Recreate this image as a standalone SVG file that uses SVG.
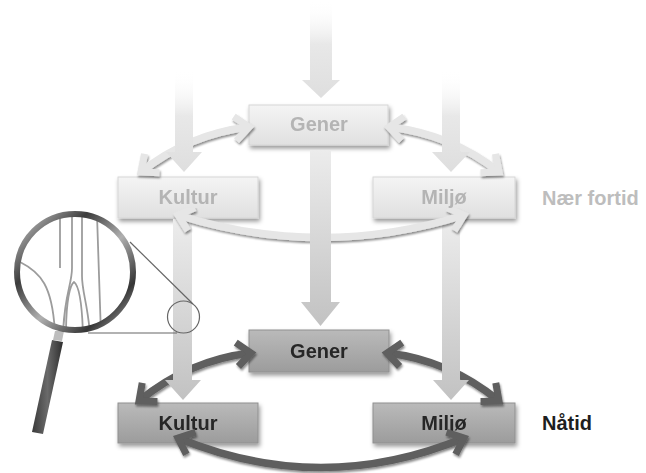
<svg xmlns="http://www.w3.org/2000/svg" width="646" height="473" viewBox="0 0 646 473">
  <defs>
    <style>
      .lbl { font-family: "Liberation Sans", Arial, sans-serif; font-weight: bold; font-size: 20px; text-anchor: middle; }
      .past-txt { fill: #b4b4b4; }
      .now-txt { fill: #262626; }
      .side { font-family: "Liberation Sans", Arial, sans-serif; font-weight: bold; font-size: 20px; }
      .past-box { fill: url(#gPastBox); stroke: #d6d6d6; stroke-width: 1; }
      .now-box { fill: url(#gNowBox); stroke: #909090; stroke-width: 1; }
      .band-light { fill: none; stroke: #e6e6e6; stroke-width: 7.5; marker-start: url(#mLight); marker-end: url(#mLight); }
      .band-dark { fill: none; stroke: #5e5e5e; stroke-width: 7.5; marker-start: url(#mDark); marker-end: url(#mDark); }
      .lens-line { fill: none; stroke: #9c9c9c; stroke-width: 1.8; }
      .thin { fill: none; stroke: #666666; stroke-width: 1.2; }
    </style>
    <filter id="shadow" x="-20%" y="-30%" width="140%" height="170%">
      <feDropShadow dx="1.5" dy="3" stdDeviation="2" flood-color="#000" flood-opacity="0.4"/>
    </filter>
    <filter id="shadowS" x="-20%" y="-30%" width="140%" height="170%">
      <feDropShadow dx="1" dy="2" stdDeviation="1.3" flood-color="#000" flood-opacity="0.45"/>
    </filter>
    <linearGradient id="gPastBox" x1="0" y1="0" x2="0" y2="1">
      <stop offset="0" stop-color="#f4f4f4"/>
      <stop offset="1" stop-color="#e0e0e0"/>
    </linearGradient>
    <linearGradient id="gNowBox" x1="0" y1="0" x2="0" y2="1">
      <stop offset="0" stop-color="#bababa"/>
      <stop offset="1" stop-color="#9c9c9c"/>
    </linearGradient>
    <linearGradient id="gIn" x1="0" y1="0" x2="0" y2="1">
      <stop offset="0" stop-color="#ffffff" stop-opacity="0"/>
      <stop offset="0.45" stop-color="#e8e8e8"/>
      <stop offset="1" stop-color="#dedede"/>
    </linearGradient>
    <linearGradient id="gDown" x1="0" y1="0" x2="0" y2="1">
      <stop offset="0" stop-color="#ececec"/>
      <stop offset="1" stop-color="#c2c2c2"/>
    </linearGradient>
    <linearGradient id="gRing" x1="0" y1="0" x2="1" y2="1">
      <stop offset="0" stop-color="#d0d0d0"/>
      <stop offset="0.3" stop-color="#3c3c3c"/>
      <stop offset="0.55" stop-color="#b0b0b0"/>
      <stop offset="0.8" stop-color="#363636"/>
      <stop offset="1" stop-color="#b4b4b4"/>
    </linearGradient>
    <linearGradient id="gHandle" x1="0" y1="0" x2="1" y2="0">
      <stop offset="0" stop-color="#3a3a3a"/>
      <stop offset="0.5" stop-color="#6a6a6a"/>
      <stop offset="1" stop-color="#2e2e2e"/>
    </linearGradient>
    <marker id="mLight" markerUnits="userSpaceOnUse" orient="auto-start-reverse" markerWidth="40" markerHeight="40" refX="0" refY="0" viewBox="-20 -20 40 40" overflow="visible">
      <path d="M-14,-12 L0,0 L-14,12" fill="none" stroke="#e6e6e6" stroke-width="7"/>
    </marker>
    <marker id="mDark" markerUnits="userSpaceOnUse" orient="auto-start-reverse" markerWidth="40" markerHeight="40" refX="0" refY="0" viewBox="-20 -20 40 40" overflow="visible">
      <path d="M-14,-12 L0,0 L-14,12" fill="none" stroke="#5e5e5e" stroke-width="7"/>
    </marker>
    <clipPath id="lensClip">
      <circle cx="75" cy="272" r="57"/>
    </clipPath>
  </defs>

  <rect width="646" height="473" fill="#ffffff"/>

  <!-- Nodes: near past -->
  <g id="node-gener-past" filter="url(#shadow)">
    <rect class="past-box" x="249" y="105" width="139" height="40"/>
    <text class="lbl past-txt" x="319" y="131">Gener</text>
  </g>
  <g id="node-kultur-past" filter="url(#shadow)">
    <rect class="past-box" x="118" y="177" width="140" height="41"/>
    <text class="lbl past-txt" x="188" y="204">Kultur</text>
  </g>
  <g id="node-miljo-past" filter="url(#shadow)">
    <rect class="past-box" x="373" y="177" width="142" height="41"/>
    <text class="lbl past-txt" x="444" y="204">Miljø</text>
  </g>

  <!-- Nodes: present -->
  <g id="node-gener-now" filter="url(#shadow)">
    <rect class="now-box" x="249" y="330" width="140" height="42"/>
    <text class="lbl now-txt" x="319" y="358">Gener</text>
  </g>
  <g id="node-kultur-now" filter="url(#shadow)">
    <rect class="now-box" x="118" y="403" width="140" height="40"/>
    <text class="lbl now-txt" x="188" y="430">Kultur</text>
  </g>
  <g id="node-miljo-now" filter="url(#shadow)">
    <rect class="now-box" x="373" y="403" width="142" height="40"/>
    <text class="lbl now-txt" x="444" y="430">Miljø</text>
  </g>

  <!-- Connectors -->
  <g id="connectors">
    <!-- curved double arrows, near past -->
    <path class="band-light" filter="url(#shadowS)" d="M141,172 Q189,134 249,127"/>
    <path class="band-light" filter="url(#shadowS)" d="M389,127 Q451,134 499,172"/>
    <!-- curved double arrows, present -->
    <path class="band-dark" filter="url(#shadowS)" d="M139,401 Q189,360 251,353"/>
    <path class="band-dark" filter="url(#shadowS)" d="M387,353 Q449,360 499,401"/>

    <!-- incoming arrows (from further past) -->
    <polygon fill="url(#gIn)" points="175,70 193,70 193,152 202,152 184,172 166,152 175,152"/>
    <polygon fill="url(#gIn)" points="442,70 460,70 460,152 470,152 451,172 432,152 442,152"/>
    <polygon fill="url(#gIn)" points="310,0 332,0 332,80 340,80 321,98 302,80 310,80"/>

    <!-- downward arrows past -> present -->
    <polygon fill="url(#gDown)" points="173,219 192,219 192,380 201,380 183,400 165,380 173,380"/>
    <polygon fill="url(#gDown)" points="442,219 460,219 460,380 469,380 451,400 433,380 442,380"/>

    <!-- horizontal arcs Kultur <-> Miljø -->
    <path class="band-light" filter="url(#shadowS)" d="M178,215 Q321,260 464,215"/>
    <path class="band-dark" filter="url(#shadowS)" d="M178,438 Q321,497 464,438"/>

    <!-- centre arrow Gener past -> Gener present -->
    <polygon fill="url(#gDown)" points="310,150 331,150 331,302 340,302 320.5,326 301,302 310,302"/>
  </g>

  <!-- Side labels -->
  <g id="label-past">
    <text class="side" x="542" y="205" fill="#bdbdbd">Nær fortid</text>
  </g>
  <g id="label-now">
    <text class="side" x="542" y="430" fill="#1e1e1e">Nåtid</text>
  </g>

  <!-- Magnifier -->
  <g id="magnifier">
    <line class="thin" x1="130" y1="242" x2="193" y2="304"/>
    <line class="thin" x1="88" y1="333" x2="177" y2="333"/>
    <circle class="thin" cx="183.5" cy="317" r="16"/>
    <polygon fill="url(#gHandle)" points="52,340 63,342 43,434 32,432"/>
    <polygon fill="#bdbdbd" points="55,331 64,331 62,341 53,340"/>
    <circle cx="75" cy="272" r="57" fill="#ffffff"/>
    <g clip-path="url(#lensClip)">
      <path class="lens-line" d="M20,262 C40,272 53,285 55,335"/>
      <path class="lens-line" d="M60,215 L60,268"/>
      <path class="lens-line" d="M72,215 L72,268 C72,285 64,295 63,335"/>
      <path class="lens-line" d="M66,335 C66,300 70,285 74,282 C78,285 82,300 83,335"/>
      <path class="lens-line" d="M82,215 L82,276 C82,292 88,305 90,335"/>
      <path class="lens-line" d="M97,215 C98,255 100,295 101,335"/>
    </g>
    <circle cx="75" cy="272" r="58" fill="none" stroke="url(#gRing)" stroke-width="6"/>
  </g>
</svg>
